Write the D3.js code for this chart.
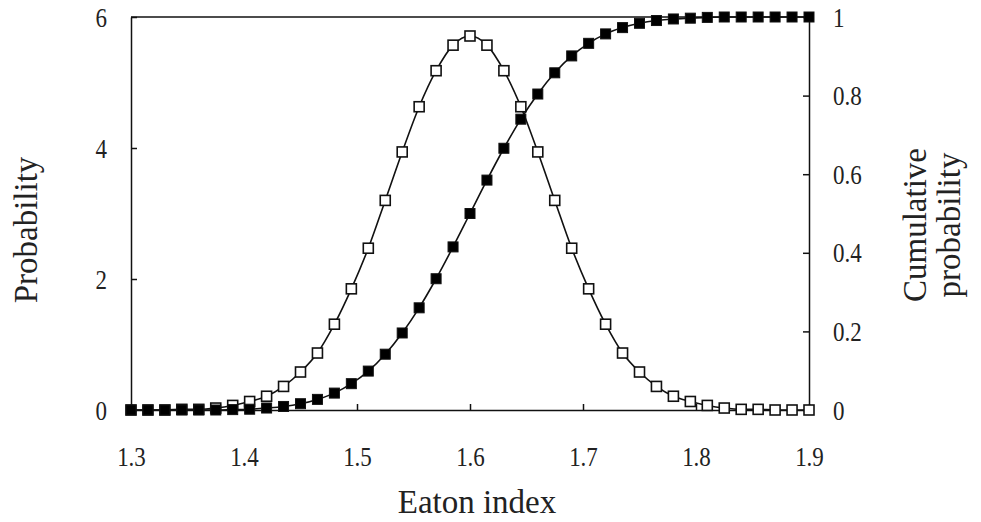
<!DOCTYPE html>
<html>
<head>
<meta charset="utf-8">
<script src="https://cdn.jsdelivr.net/npm/d3@7"></script>
<style>
  body { margin: 0; background: #fff; }
  svg text { font-family: "Liberation Serif", "DejaVu Serif", serif; fill: #222; }
</style>
</head>
<body>
<div id="chart"></div>
<script>
// Eaton index, 41 points from 1.3 to 1.9
const eatonIndex = [1.3, 1.315, 1.33, 1.345, 1.36, 1.375, 1.39, 1.405, 1.42, 1.435,
    1.45, 1.465, 1.48, 1.495, 1.51, 1.525, 1.54, 1.555, 1.57, 1.585,
    1.6, 1.615, 1.63, 1.645, 1.66, 1.675, 1.69, 1.705, 1.72, 1.735,
    1.75, 1.765, 1.78, 1.795, 1.81, 1.825, 1.84, 1.855, 1.87, 1.885, 1.9];

// probability (left axis, open squares)
const probability = [0, 0, 0, 0.01, 0.01, 0.03, 0.07, 0.13, 0.21, 0.36,
    0.58, 0.87, 1.31, 1.85, 2.47, 3.2, 3.94, 4.63, 5.18, 5.57,
    5.71, 5.57, 5.18, 4.63, 3.94, 3.2, 2.47, 1.85, 1.31, 0.87,
    0.58, 0.36, 0.21, 0.13, 0.07, 0.03, 0.01, 0.01, 0, 0, 0];

// cumulative probability (right axis, filled squares)
const cumulative = [0, 0, 0, 0, 0, 0, 0.001, 0.002, 0.005, 0.009,
    0.016, 0.027, 0.043, 0.067, 0.099, 0.142, 0.196, 0.26, 0.334, 0.415,
    0.5, 0.585, 0.666, 0.74, 0.804, 0.858, 0.901, 0.933, 0.957, 0.973,
    0.984, 0.991, 0.995, 0.997, 0.999, 1, 1, 1, 1, 1, 1];

const xTicks = [1.3, 1.4, 1.5, 1.6, 1.7, 1.8, 1.9];
const yLeftTicks = [0, 2, 4, 6];
const yRightTicks = [0, 0.2, 0.4, 0.6, 0.8, 1];

const width = 981, height = 522;
const margin = { top: 17, right: 172, bottom: 112, left: 131 };
const w = width - margin.left - margin.right;
const h = height - margin.top - margin.bottom;

const svg = d3.select("#chart").append("svg")
    .attr("width", width)
    .attr("height", height);

const g = svg.append("g")
    .attr("transform", "translate(" + margin.left + "," + margin.top + ")");

const x = d3.scaleLinear().domain([1.3, 1.9]).range([0, w]);
const yL = d3.scaleLinear().domain([0, 6]).range([h, 0]);
const yR = d3.scaleLinear().domain([0, 1]).range([h, 0]);

// top frame line
g.append("line")
    .attr("x1", 0).attr("x2", w)
    .attr("y1", 0).attr("y2", 0)
    .attr("stroke", "#111").attr("stroke-width", 1.5);

// axes, ticks pointing inward
const xAxis = g.append("g")
    .attr("transform", "translate(0," + h + ")")
    .call(d3.axisBottom(x).tickValues(xTicks).tickSize(-6)
        .tickFormat(d3.format(".1f")).tickSizeOuter(0));

const leftAxis = g.append("g")
    .call(d3.axisLeft(yL).tickValues(yLeftTicks).tickSize(-6)
        .tickFormat(d3.format("d")).tickSizeOuter(0));

const rightAxis = g.append("g")
    .attr("transform", "translate(" + w + ",0)")
    .call(d3.axisRight(yR).tickValues(yRightTicks).tickSize(-6)
        .tickFormat(d => d === 0 || d === 1 ? d3.format("d")(d) : d3.format(".1f")(d)).tickSizeOuter(0));

[xAxis, leftAxis, rightAxis].forEach(a => {
    a.select(".domain").attr("stroke", "#111").attr("stroke-width", 1.5);
    a.selectAll(".tick line").attr("stroke", "#111").attr("stroke-width", 1.5);
    a.selectAll(".tick text")
        .style("font-family", "'Liberation Serif', serif")
        .style("font-size", "23px")
        .attr("fill", "#222")
        .attr("x", 0).attr("y", 0).attr("dy", null);
});
// tick labels are a bit taller than wide in the original
xAxis.selectAll(".tick text").attr("transform", "translate(0,56) scale(1,1.2)");
leftAxis.selectAll(".tick text").attr("transform", "translate(-24,9) scale(1,1.2)");
rightAxis.selectAll(".tick text").attr("transform", "translate(24,9) scale(1,1.2)");

const probData = eatonIndex.map((d, i) => ({ x: d, y: probability[i] }));
const cumData = eatonIndex.map((d, i) => ({ x: d, y: cumulative[i] }));

// lines
g.append("path")
    .datum(probData)
    .attr("fill", "none")
    .attr("stroke", "#111")
    .attr("stroke-width", 1.6)
    .attr("d", d3.line().x(d => x(d.x)).y(d => yL(d.y)).curve(d3.curveMonotoneX));

g.append("path")
    .datum(cumData)
    .attr("fill", "none")
    .attr("stroke", "#111")
    .attr("stroke-width", 1.6)
    .attr("d", d3.line().x(d => x(d.x)).y(d => yR(d.y)).curve(d3.curveMonotoneX));

const s = 10;
// open squares
g.append("g")
    .selectAll("rect")
    .data(probData)
    .enter()
    .append("rect")
    .attr("x", d => x(d.x) - s / 2)
    .attr("y", d => yL(d.y) - s / 2)
    .attr("width", s)
    .attr("height", s)
    .attr("fill", "#fff")
    .attr("stroke", "#111")
    .attr("stroke-width", 1.6);

// filled squares
g.append("g")
    .selectAll("rect")
    .data(cumData)
    .enter()
    .append("rect")
    .attr("x", d => x(d.x) - s / 2)
    .attr("y", d => yR(d.y) - s / 2)
    .attr("width", s)
    .attr("height", s)
    .attr("fill", "#000")
    .attr("stroke", "#111")
    .attr("stroke-width", 1);

// axis titles
svg.append("text")
    .attr("x", 477)
    .attr("y", 513)
    .attr("text-anchor", "middle")
    .style("font-size", "33px")
    .text("Eaton index");

svg.append("text")
    .attr("transform", "translate(37,230) rotate(-90)")
    .attr("text-anchor", "middle")
    .style("font-size", "33px")
    .text("Probability");

const rightTitle = svg.append("text")
    .attr("transform", "translate(926,225) rotate(-90)")
    .attr("text-anchor", "middle")
    .style("font-size", "33px");
rightTitle.append("tspan").attr("x", 0).attr("dy", 0).text("Cumulative");
rightTitle.append("tspan").attr("x", 0).attr("dy", 34).text("probability");
</script>
</body>
</html>
